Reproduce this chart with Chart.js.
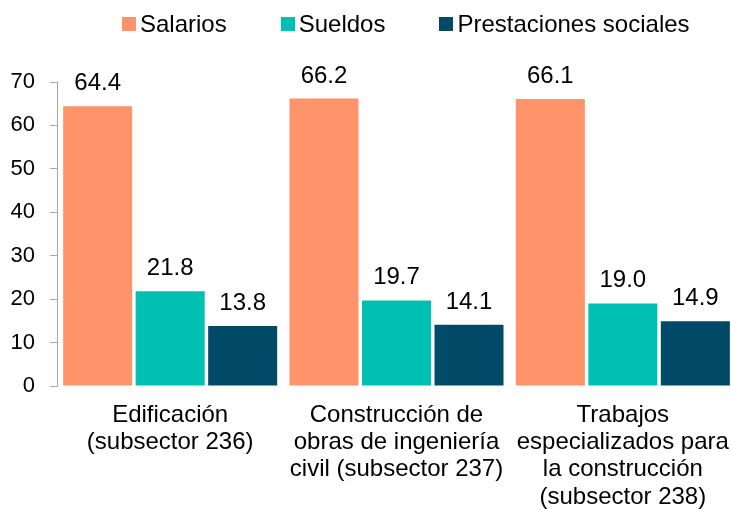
<!DOCTYPE html>
<html lang="es">
<head>
<meta charset="utf-8">
<title>Remuneraciones por subsector</title>
<script src="https://cdn.jsdelivr.net/npm/chart.js@4.4.1/dist/chart.umd.min.js"></script>
<style>
  html, body { margin: 0; padding: 0; background: #fff; overflow: hidden; }
  #wrap { position: relative; width: 731px; height: 509px; overflow: hidden; }
  #legend {
    position: absolute; top: 10px; left: 122px;
    display: flex; align-items: center;
    font: 24px 'Liberation Sans', Arial, sans-serif; line-height: 28px; color: #000;
  }
  #legend .item { display: flex; align-items: center; margin-right: 54px; }
  #legend .item:last-child { margin-right: 0; }
  #legend .box { width: 14px; height: 14px; margin-right: 4px; }
</style>
</head>
<body>
<div id="wrap">
  <!-- the plot runs a few px past the right edge, so the canvas is wider than the frame -->
  <canvas id="remChart" width="736" height="509"></canvas>
  <div id="legend"></div>
</div>
<script>
// Categorias (subsectores) y porcentajes por tipo de remuneracion
const categories = [
  ['Edificación', '(subsector 236)'],
  ['Construcción de', 'obras de ingeniería', 'civil (subsector 237)'],
  ['Trabajos', 'especializados para', 'la construcción', '(subsector 238)']
];
const seriesNames = ['Salarios', 'Sueldos', 'Prestaciones sociales'];
const salarios = [64.4, 66.2, 66.1];
const sueldos = [21.8, 19.7, 19.0];
const prestaciones = [13.8, 14.1, 14.9];
const yTicks = [0, 10, 20, 30, 40, 50, 60, 70];

const colors = ['#FF936A', '#00BFB3', '#004A68'];
const fontFamily = "'Liberation Sans', Arial, sans-serif";

// Etiquetas de valor sobre cada barra
const valueLabels = {
  id: 'valueLabels',
  afterDatasetsDraw(chart) {
    const ctx = chart.ctx;
    ctx.save();
    ctx.font = '24px ' + fontFamily;
    ctx.fillStyle = '#000';
    ctx.textAlign = 'center';
    ctx.textBaseline = 'alphabetic';
    chart.data.datasets.forEach((ds, i) => {
      chart.getDatasetMeta(i).data.forEach((bar, j) => {
        ctx.fillText(ds.data[j].toFixed(1), bar.x, bar.y - 16);
      });
    });
    ctx.restore();
  }
};

const ctx = document.getElementById('remChart').getContext('2d');
const remChart = new Chart(ctx, {
  type: 'bar',
  data: {
    labels: categories,
    datasets: [salarios, sueldos, prestaciones].map((values, i) => ({
      label: seriesNames[i],
      data: values,
      backgroundColor: colors[i],
      borderWidth: 0,
      categoryPercentage: 0.961,
      barPercentage: 0.952
    }))
  },
  options: {
    responsive: false,
    animation: false,
    layout: {
      padding: { top: 82, left: 0, right: 0, bottom: 0 }
    },
    scales: {
      x: {
        grid: { display: false, drawTicks: false },
        border: { display: false },
        // fixed band for the wrapped labels
        afterFit(scale) {
          scale.height = 123;
          scale.paddingLeft = 0;
          scale.paddingRight = 0;
        },
        ticks: {
          color: '#000',
          padding: 16,
          maxRotation: 0,
          autoSkip: false,
          font: { family: fontFamily, size: 24, lineHeight: 1.13 }
        }
      },
      y: {
        min: yTicks[0],
        max: yTicks[yTicks.length - 1],
        afterBuildTicks(scale) {
          scale.ticks = yTicks.map(v => ({ value: v }));
        },
        afterFit(scale) {
          scale.width = 57;
        },
        grid: {
          drawOnChartArea: false,
          drawTicks: true,
          tickLength: 7,
          color: '#a6a6a6'
        },
        border: { display: true, color: '#a6a6a6', width: 1 },
        ticks: {
          color: '#000',
          padding: 15,
          font: { family: fontFamily, size: 22 }
        }
      }
    },
    plugins: {
      legend: { display: false },
      tooltip: { enabled: false }
    }
  },
  plugins: [valueLabels]
});

// Leyenda en HTML a partir de los datasets
const legendEl = document.getElementById('legend');
remChart.data.datasets.forEach(ds => {
  const item = document.createElement('div');
  item.className = 'item';
  const box = document.createElement('span');
  box.className = 'box';
  box.style.background = ds.backgroundColor;
  const text = document.createElement('span');
  text.textContent = ds.label;
  item.appendChild(box);
  item.appendChild(text);
  legendEl.appendChild(item);
});
</script>
</body>
</html>
